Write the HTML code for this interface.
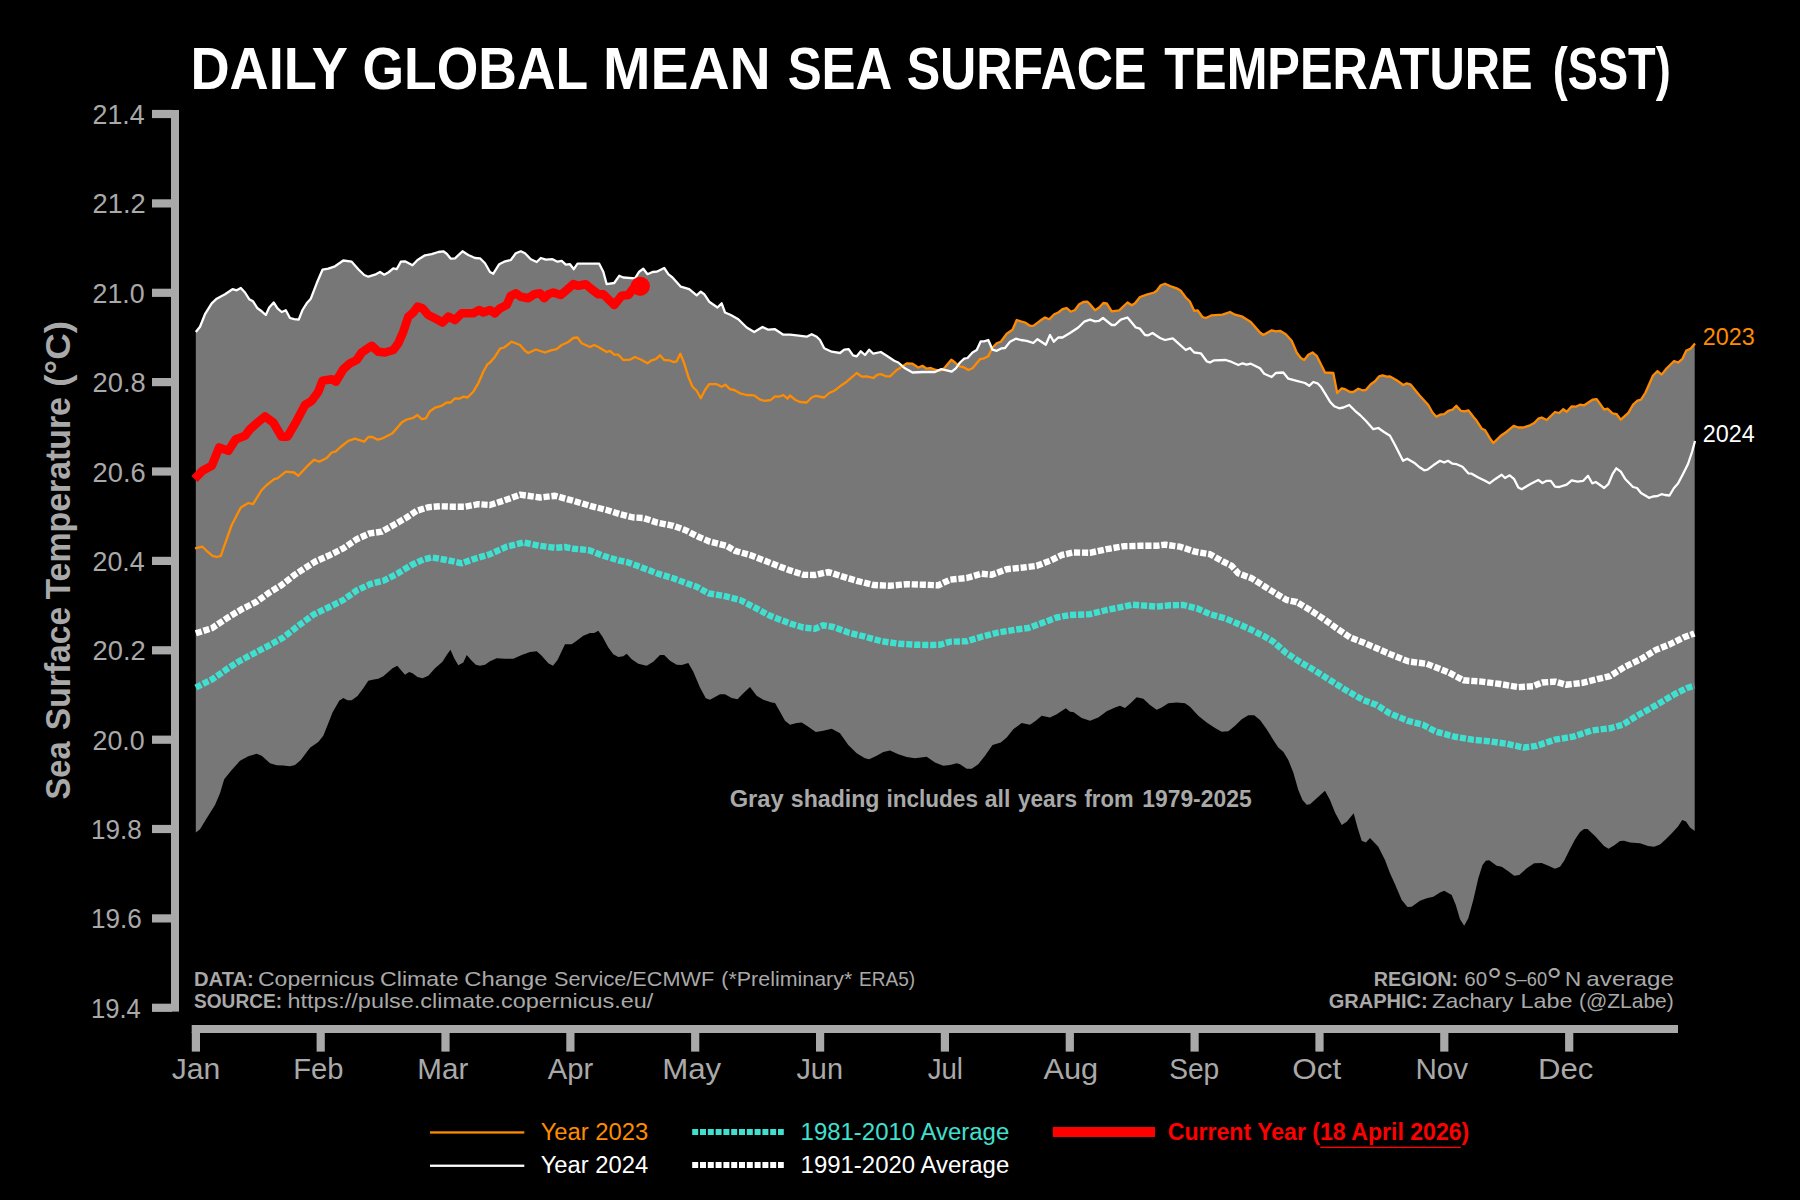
<!DOCTYPE html>
<html lang="en"><head><meta charset="utf-8"><title>Daily Global Mean Sea Surface Temperature (SST)</title>
<style>html,body{margin:0;padding:0;background:#000;}body{width:1800px;height:1200px;overflow:hidden;}svg{display:block;}text{font-family:'Liberation Sans', sans-serif;}</style>
</head><body>
<svg width="1800" height="1200" viewBox="0 0 1800 1200">
<rect x="0" y="0" width="1800" height="1200" fill="#000"/>
<text y="88.8" font-size="60" font-weight="bold" fill="#fff"><tspan x="190.41" textLength="156.64" lengthAdjust="spacingAndGlyphs">DAILY</tspan> <tspan x="362.53" textLength="224.64" lengthAdjust="spacingAndGlyphs">GLOBAL</tspan> <tspan x="602.9" textLength="167.89" lengthAdjust="spacingAndGlyphs">MEAN</tspan> <tspan x="787.63" textLength="102.81" lengthAdjust="spacingAndGlyphs">SEA</tspan> <tspan x="906.63" textLength="239.8" lengthAdjust="spacingAndGlyphs">SURFACE</tspan> <tspan x="1164.19" textLength="368.44" lengthAdjust="spacingAndGlyphs">TEMPERATURE</tspan> <tspan x="1552.74" textLength="117.96" lengthAdjust="spacingAndGlyphs">(SST)</tspan></text>
<polygon points="195.8,332.0 196.8,330.7 197.8,329.5 198.8,328.2 199.8,327.0 200.8,324.7 201.8,322.2 202.8,319.7 203.8,317.2 204.8,314.7 205.8,312.9 206.8,311.3 207.8,309.6 208.8,308.0 209.8,306.4 210.8,304.8 211.8,303.2 212.8,302.3 213.8,301.4 214.8,300.4 215.8,299.5 216.8,298.6 217.8,298.1 218.8,297.6 219.8,297.0 220.8,296.5 221.8,295.9 222.8,295.4 223.8,294.9 224.8,294.3 225.8,293.7 226.8,293.0 227.8,292.3 228.8,291.7 229.8,291.0 230.8,290.3 231.8,289.7 232.8,289.3 233.8,289.5 234.8,289.8 235.8,290.1 236.8,290.2 237.8,289.7 238.8,289.1 239.8,288.6 240.8,288.0 241.8,289.1 242.8,290.1 243.8,291.2 244.8,292.3 245.8,293.8 246.8,295.4 247.8,297.0 248.8,298.6 249.8,299.5 250.8,300.1 251.8,300.6 252.8,301.2 253.8,302.5 254.8,304.1 255.8,305.7 256.8,307.2 257.8,308.5 258.8,309.2 259.8,309.9 260.8,310.7 261.8,311.4 262.8,312.3 263.8,313.2 264.8,314.1 265.8,315.0 266.8,312.8 267.8,310.6 268.8,308.4 269.8,306.8 270.8,305.7 271.8,304.6 272.8,303.5 273.8,302.7 274.8,304.2 275.8,305.7 276.8,307.2 277.8,308.6 278.8,309.4 279.8,310.3 280.8,311.2 281.8,312.0 282.8,311.5 283.8,311.1 284.8,310.7 285.8,310.3 286.8,312.1 287.8,314.0 288.8,315.8 289.8,317.6 290.8,318.2 291.8,318.5 292.8,318.8 293.8,319.1 294.8,319.3 295.8,319.4 296.8,319.5 297.8,319.6 298.8,319.4 299.8,316.9 300.8,314.3 301.8,311.8 302.8,309.5 303.8,307.9 304.8,306.3 305.8,304.7 306.8,303.2 307.8,302.1 308.8,300.9 309.8,299.8 310.8,298.7 311.8,296.1 312.8,293.5 313.8,290.9 314.8,288.3 315.8,285.6 316.8,283.1 317.8,280.7 318.8,278.4 319.8,276.0 320.8,273.7 321.8,271.3 322.8,269.6 323.8,269.5 324.8,269.3 325.8,269.1 326.8,269.0 327.8,268.8 328.8,268.5 329.8,268.2 330.8,267.8 331.8,267.4 332.8,267.1 333.8,266.7 334.8,266.4 335.8,265.7 336.8,265.0 337.8,264.3 338.8,263.6 339.8,262.9 340.8,262.2 341.8,261.5 342.8,260.8 343.8,260.6 344.8,260.7 345.8,260.9 346.8,261.0 347.8,261.1 348.8,261.3 349.8,261.4 350.8,261.6 351.8,261.8 352.8,262.9 353.8,264.1 354.8,265.2 355.8,266.4 356.8,267.5 357.8,268.6 358.8,269.7 359.8,270.7 360.8,271.7 361.8,272.6 362.8,273.6 363.8,274.6 364.8,275.2 365.8,275.7 366.8,276.1 367.8,276.5 368.8,276.6 369.8,276.3 370.8,276.0 371.8,275.7 372.8,275.4 373.8,275.1 374.8,274.8 375.8,274.3 376.8,273.7 377.8,273.2 378.8,272.6 379.8,272.1 380.8,272.5 381.8,273.2 382.8,273.8 383.8,274.4 384.8,274.4 385.8,273.8 386.8,273.3 387.8,272.8 388.8,272.1 389.8,271.2 390.8,270.4 391.8,269.6 392.8,268.7 393.8,268.4 394.8,268.7 395.8,269.0 396.8,269.0 397.8,267.2 398.8,265.4 399.8,263.5 400.8,261.7 401.8,261.6 402.8,261.5 403.8,261.4 404.8,261.3 405.8,261.7 406.8,262.3 407.8,262.8 408.8,263.3 409.8,263.9 410.8,264.4 411.8,264.9 412.8,265.0 413.8,263.9 414.8,262.9 415.8,261.8 416.8,260.7 417.8,259.8 418.8,259.2 419.8,258.6 420.8,257.9 421.8,257.3 422.8,256.7 423.8,256.1 424.8,255.4 425.8,255.2 426.8,255.0 427.8,254.8 428.8,254.7 429.8,254.5 430.8,254.3 431.8,254.2 432.8,253.8 433.8,253.5 434.8,253.2 435.8,252.8 436.8,252.5 437.8,252.2 438.8,251.9 439.8,251.8 440.8,251.7 441.8,251.5 442.8,251.4 443.8,251.7 444.8,252.4 445.8,253.1 446.8,253.8 447.8,255.0 448.8,256.3 449.8,257.5 450.8,258.7 451.8,258.6 452.8,258.5 453.8,258.4 454.8,258.3 455.8,257.6 456.8,256.6 457.8,255.7 458.8,254.8 459.8,253.8 460.8,252.9 461.8,252.0 462.8,251.5 463.8,252.1 464.8,252.8 465.8,253.4 466.8,254.0 467.8,254.7 468.8,255.2 469.8,255.7 470.8,256.1 471.8,256.6 472.8,257.0 473.8,257.5 474.8,257.9 475.8,258.0 476.8,258.1 477.8,258.2 478.8,258.2 479.8,258.3 480.8,259.1 481.8,260.1 482.8,261.1 483.8,262.1 484.8,263.1 485.8,264.7 486.8,266.4 487.8,268.2 488.8,269.9 489.8,271.7 490.8,272.4 491.8,272.9 492.8,273.4 493.8,272.9 494.8,271.3 495.8,269.7 496.8,268.1 497.8,266.5 498.8,264.8 499.8,263.9 500.8,263.4 501.8,262.9 502.8,262.4 503.8,261.9 504.8,261.5 505.8,261.3 506.8,261.0 507.8,260.8 508.8,260.5 509.8,260.3 510.8,260.0 511.8,258.7 512.8,257.3 513.8,256.0 514.8,254.6 515.8,253.3 516.8,252.9 517.8,252.5 518.8,252.1 519.8,251.7 520.8,251.3 521.8,251.8 522.8,252.3 523.8,252.7 524.8,253.2 525.8,254.1 526.8,255.1 527.8,256.1 528.8,257.2 529.8,258.2 530.8,259.2 531.8,259.7 532.8,260.1 533.8,260.6 534.8,261.1 535.8,261.6 536.8,261.9 537.8,260.9 538.8,260.0 539.8,259.0 540.8,258.0 541.8,258.3 542.8,258.7 543.8,259.0 544.8,259.4 545.8,259.7 546.8,259.6 547.8,259.6 548.8,259.5 549.8,259.4 550.8,259.3 551.8,259.3 552.8,259.3 553.8,259.8 554.8,260.3 555.8,260.8 556.8,261.3 557.8,261.6 558.8,261.4 559.8,261.2 560.8,261.0 561.8,260.9 562.8,261.8 563.8,262.8 564.8,263.7 565.8,264.7 566.8,264.6 567.8,264.5 568.8,264.3 569.8,264.2 570.8,265.3 571.8,266.6 572.8,267.9 573.8,269.2 574.8,267.7 575.8,266.2 576.8,264.7 577.8,263.7 578.8,263.7 579.8,263.7 580.8,263.7 581.8,263.7 582.8,263.7 583.8,263.7 584.8,263.7 585.8,263.7 586.8,263.7 587.8,263.7 588.8,263.7 589.8,263.7 590.8,263.7 591.8,263.7 592.8,263.7 593.8,263.7 594.8,263.7 595.8,263.7 596.8,263.7 597.8,263.7 598.8,263.7 599.8,264.9 600.8,266.8 601.8,268.8 602.8,270.7 603.8,273.5 604.8,277.2 605.8,280.9 606.8,284.2 607.8,284.0 608.8,283.9 609.8,283.7 610.8,283.5 611.8,283.4 612.8,283.2 613.8,283.1 614.8,282.1 615.8,280.7 616.8,279.3 617.8,277.8 618.8,276.4 619.8,276.0 620.8,276.5 621.8,276.9 622.8,277.3 623.8,277.5 624.8,277.6 625.8,277.7 626.8,277.7 627.8,277.8 628.8,277.9 629.8,277.9 630.8,278.0 631.8,278.1 632.8,278.1 633.8,278.2 634.8,278.3 635.8,277.0 636.8,275.5 637.8,273.9 638.8,272.3 639.8,271.3 640.8,270.6 641.8,269.9 642.8,269.2 643.8,269.4 644.8,270.7 645.8,272.0 646.8,273.3 647.8,274.1 648.8,273.6 649.8,273.2 650.8,272.7 651.8,272.3 652.8,272.0 653.8,271.9 654.8,271.8 655.8,271.8 656.8,271.7 657.8,271.2 658.8,270.7 659.8,270.2 660.8,269.7 661.8,269.2 662.8,268.7 663.8,268.2 664.8,268.9 665.8,270.4 666.8,271.9 667.8,273.4 668.8,274.6 669.8,275.4 670.8,276.2 671.8,276.9 672.8,277.8 673.8,278.9 674.8,280.0 675.8,281.2 676.8,282.3 677.8,283.4 678.8,284.5 679.8,285.6 680.8,286.7 681.8,287.0 682.8,287.3 683.8,287.6 684.8,287.9 685.8,288.2 686.8,288.5 687.8,288.8 688.8,289.1 689.8,289.7 690.8,290.5 691.8,291.3 692.8,292.1 693.8,292.9 694.8,293.8 695.8,294.6 696.8,295.2 697.8,294.3 698.8,293.5 699.8,292.6 700.8,291.7 701.8,292.4 702.8,293.2 703.8,293.9 704.8,295.1 705.8,296.6 706.8,298.1 707.8,299.6 708.8,301.1 709.8,302.1 710.8,302.8 711.8,303.5 712.8,304.2 713.8,304.9 714.8,305.6 715.8,306.3 716.8,307.0 717.8,307.2 718.8,306.2 719.8,305.2 720.8,304.2 721.8,303.6 722.8,306.4 723.8,309.2 724.8,311.9 725.8,312.8 726.8,313.3 727.8,313.7 728.8,314.1 729.8,314.6 730.8,315.0 731.8,315.6 732.8,316.1 733.8,316.7 734.8,317.2 735.8,317.8 736.8,318.4 737.8,318.9 738.8,319.7 739.8,320.7 740.8,321.7 741.8,322.7 742.8,323.6 743.8,324.6 744.8,325.6 745.8,326.6 746.8,327.6 747.8,328.2 748.8,328.8 749.8,329.4 750.8,330.0 751.8,330.6 752.8,331.2 753.8,331.8 754.8,331.6 755.8,331.0 756.8,330.4 757.8,329.8 758.8,329.2 759.8,328.6 760.8,328.0 761.8,327.4 762.8,327.1 763.8,327.6 764.8,328.1 765.8,328.5 766.8,329.0 767.8,329.5 768.8,329.7 769.8,329.6 770.8,329.5 771.8,329.4 772.8,329.4 773.8,329.3 774.8,329.2 775.8,329.7 776.8,330.4 777.8,331.1 778.8,331.7 779.8,332.4 780.8,333.0 781.8,333.7 782.8,334.4 783.8,334.7 784.8,334.7 785.8,334.7 786.8,334.7 787.8,334.7 788.8,334.7 789.8,334.7 790.8,334.8 791.8,334.9 792.8,335.0 793.8,335.0 794.8,335.1 795.8,335.2 796.8,335.3 797.8,335.5 798.8,335.6 799.8,335.7 800.8,335.9 801.8,336.0 802.8,336.2 803.8,336.3 804.8,336.4 805.8,336.6 806.8,336.7 807.8,336.2 808.8,335.7 809.8,335.2 810.8,334.7 811.8,334.2 812.8,334.7 813.8,335.2 814.8,335.7 815.8,336.2 816.8,336.8 817.8,337.8 818.8,338.8 819.8,339.8 820.8,341.6 821.8,343.6 822.8,345.5 823.8,347.5 824.8,348.6 825.8,349.0 826.8,349.5 827.8,349.9 828.8,350.4 829.8,350.8 830.8,351.3 831.8,351.7 832.8,351.9 833.8,352.0 834.8,352.2 835.8,352.3 836.8,352.5 837.8,352.7 838.8,352.8 839.8,353.0 840.8,352.4 841.8,351.6 842.8,350.8 843.8,350.0 844.8,349.6 845.8,349.5 846.8,349.4 847.8,349.3 848.8,349.3 849.8,350.8 850.8,352.2 851.8,353.6 852.8,355.0 853.8,355.5 854.8,355.8 855.8,356.1 856.8,356.2 857.8,355.0 858.8,353.7 859.8,352.5 860.8,351.3 861.8,352.2 862.8,353.1 863.8,353.9 864.8,354.8 865.8,354.0 866.8,352.7 867.8,351.5 868.8,350.2 869.8,350.3 870.8,351.3 871.8,352.2 872.8,353.2 873.8,353.6 874.8,353.4 875.8,353.1 876.8,352.9 877.8,352.7 878.8,352.5 879.8,352.2 880.8,352.0 881.8,352.6 882.8,353.3 883.8,353.9 884.8,354.6 885.8,355.2 886.8,355.9 887.8,356.5 888.8,357.2 889.8,357.9 890.8,358.5 891.8,359.2 892.8,359.9 893.8,360.5 894.8,361.0 895.8,361.5 896.8,361.9 897.8,362.3 898.8,362.9 899.8,363.8 900.8,364.7 901.8,365.5 902.8,366.2 903.8,365.4 904.8,364.7 905.8,364.0 906.8,363.3 907.8,363.4 908.8,363.4 909.8,363.5 910.8,363.6 911.8,363.7 912.8,363.9 913.8,364.6 914.8,365.2 915.8,365.9 916.8,366.5 917.8,367.2 918.8,367.3 919.8,366.9 920.8,366.5 921.8,366.1 922.8,366.0 923.8,366.7 924.8,367.4 925.8,368.1 926.8,368.7 927.8,368.5 928.8,368.3 929.8,368.2 930.8,368.0 931.8,368.4 932.8,368.8 933.8,369.2 934.8,369.6 935.8,369.9 936.8,370.1 937.8,370.3 938.8,370.2 939.8,369.7 940.8,369.2 941.8,369.4 942.8,369.1 943.8,368.5 944.8,367.6 945.8,366.4 946.8,365.2 947.8,363.9 948.8,362.7 949.8,361.5 950.8,360.3 951.8,360.1 952.8,360.8 953.8,361.6 954.8,362.3 955.8,363.2 956.8,364.1 957.8,365.0 958.8,364.2 959.8,362.8 960.8,361.8 961.8,360.9 962.8,360.0 963.8,359.1 964.8,358.6 965.8,358.4 966.8,358.1 967.8,357.7 968.8,356.6 969.8,355.5 970.8,354.4 971.8,353.3 972.8,352.3 973.8,351.7 974.8,351.1 975.8,350.5 976.8,349.8 977.8,347.7 978.8,345.5 979.8,343.4 980.8,341.3 981.8,341.3 982.8,341.3 983.8,341.3 984.8,341.1 985.8,340.8 986.8,340.5 987.8,340.2 988.8,341.2 989.8,343.5 990.8,345.8 991.8,348.1 992.8,347.2 993.8,346.2 994.8,345.2 995.8,344.2 996.8,343.3 997.8,342.9 998.8,342.5 999.8,342.1 1000.8,341.7 1001.8,340.3 1002.8,339.0 1003.8,337.6 1004.8,336.3 1005.8,334.9 1006.8,333.6 1007.8,332.9 1008.8,332.3 1009.8,331.6 1010.8,330.9 1011.8,330.2 1012.8,329.0 1013.8,326.7 1014.8,324.4 1015.8,322.1 1016.8,320.0 1017.8,320.3 1018.8,320.7 1019.8,321.0 1020.8,321.3 1021.8,321.6 1022.8,321.9 1023.8,322.2 1024.8,322.4 1025.8,323.0 1026.8,323.7 1027.8,324.3 1028.8,325.0 1029.8,325.7 1030.8,325.8 1031.8,325.8 1032.8,325.8 1033.8,325.4 1034.8,324.7 1035.8,323.9 1036.8,323.2 1037.8,322.4 1038.8,321.7 1039.8,320.9 1040.8,320.3 1041.8,319.6 1042.8,319.0 1043.8,318.3 1044.8,317.6 1045.8,317.8 1046.8,318.2 1047.8,318.6 1048.8,319.0 1049.8,318.6 1050.8,317.6 1051.8,316.6 1052.8,315.6 1053.8,314.6 1054.8,314.0 1055.8,313.5 1056.8,313.1 1057.8,312.7 1058.8,312.1 1059.8,311.3 1060.8,310.5 1061.8,309.8 1062.8,309.1 1063.8,308.8 1064.8,308.5 1065.8,308.3 1066.8,308.1 1067.8,309.0 1068.8,309.9 1069.8,310.8 1070.8,311.7 1071.8,311.3 1072.8,310.9 1073.8,310.5 1074.8,310.1 1075.8,308.9 1076.8,307.5 1077.8,306.1 1078.8,304.8 1079.8,303.9 1080.8,303.3 1081.8,302.8 1082.8,302.3 1083.8,302.0 1084.8,301.9 1085.8,301.8 1086.8,301.8 1087.8,302.0 1088.8,303.0 1089.8,304.0 1090.8,305.2 1091.8,306.4 1092.8,307.6 1093.8,308.8 1094.8,310.1 1095.8,309.8 1096.8,309.1 1097.8,308.4 1098.8,307.8 1099.8,306.8 1100.8,305.7 1101.8,304.6 1102.8,303.5 1103.8,303.0 1104.8,303.1 1105.8,303.2 1106.8,303.5 1107.8,305.1 1108.8,306.7 1109.8,308.3 1110.8,309.9 1111.8,311.3 1112.8,311.2 1113.8,311.0 1114.8,310.9 1115.8,310.8 1116.8,310.6 1117.8,310.5 1118.8,310.4 1119.8,309.7 1120.8,308.8 1121.8,307.9 1122.8,306.9 1123.8,306.0 1124.8,305.0 1125.8,304.1 1126.8,303.2 1127.8,302.7 1128.8,303.4 1129.8,304.0 1130.8,304.7 1131.8,305.2 1132.8,304.6 1133.8,304.0 1134.8,303.4 1135.8,302.3 1136.8,301.0 1137.8,299.8 1138.8,298.5 1139.8,297.3 1140.8,296.7 1141.8,296.4 1142.8,296.0 1143.8,295.7 1144.8,295.4 1145.8,295.0 1146.8,294.7 1147.8,294.4 1148.8,294.1 1149.8,293.8 1150.8,293.5 1151.8,293.2 1152.8,292.9 1153.8,292.6 1154.8,292.1 1155.8,291.4 1156.8,290.7 1157.8,289.3 1158.8,288.0 1159.8,286.6 1160.8,285.3 1161.8,284.9 1162.8,284.5 1163.8,284.2 1164.8,283.8 1165.8,284.1 1166.8,284.5 1167.8,285.0 1168.8,285.4 1169.8,285.8 1170.8,286.3 1171.8,286.7 1172.8,287.1 1173.8,287.4 1174.8,287.7 1175.8,288.0 1176.8,288.4 1177.8,289.0 1178.8,289.6 1179.8,290.2 1180.8,290.8 1181.8,292.1 1182.8,293.5 1183.8,294.8 1184.8,296.2 1185.8,297.5 1186.8,298.5 1187.8,299.4 1188.8,300.4 1189.8,301.5 1190.8,303.6 1191.8,305.7 1192.8,307.8 1193.8,310.0 1194.8,310.7 1195.8,310.6 1196.8,310.4 1197.8,310.7 1198.8,312.0 1199.8,313.4 1200.8,314.7 1201.8,316.1 1202.8,317.1 1203.8,317.4 1204.8,317.7 1205.8,318.0 1206.8,317.5 1207.8,317.1 1208.8,316.6 1209.8,316.2 1210.8,315.7 1211.8,315.3 1212.8,315.2 1213.8,315.2 1214.8,315.1 1215.8,315.1 1216.8,315.0 1217.8,315.0 1218.8,314.9 1219.8,314.9 1220.8,314.8 1221.8,314.7 1222.8,314.6 1223.8,314.2 1224.8,313.9 1225.8,313.5 1226.8,313.2 1227.8,312.8 1228.8,312.4 1229.8,312.1 1230.8,312.4 1231.8,313.0 1232.8,313.5 1233.8,314.1 1234.8,314.6 1235.8,314.9 1236.8,315.1 1237.8,315.4 1238.8,315.6 1239.8,315.8 1240.8,316.1 1241.8,316.4 1242.8,317.0 1243.8,317.6 1244.8,318.2 1245.8,318.9 1246.8,319.5 1247.8,320.1 1248.8,320.7 1249.8,321.4 1250.8,322.0 1251.8,323.1 1252.8,324.3 1253.8,325.4 1254.8,326.6 1255.8,327.7 1256.8,328.8 1257.8,330.0 1258.8,331.1 1259.8,332.3 1260.8,333.1 1261.8,333.9 1262.8,334.6 1263.8,334.7 1264.8,334.2 1265.8,333.6 1266.8,333.0 1267.8,332.5 1268.8,331.9 1269.8,331.4 1270.8,330.8 1271.8,330.3 1272.8,330.6 1273.8,330.8 1274.8,331.1 1275.8,331.3 1276.8,331.2 1277.8,331.1 1278.8,330.9 1279.8,330.8 1280.8,331.3 1281.8,331.9 1282.8,332.4 1283.8,333.0 1284.8,333.6 1285.8,334.2 1286.8,335.3 1287.8,336.4 1288.8,337.6 1289.8,338.7 1290.8,339.8 1291.8,341.0 1292.8,343.4 1293.8,345.7 1294.8,348.1 1295.8,350.4 1296.8,352.6 1297.8,354.0 1298.8,355.3 1299.8,356.7 1300.8,358.0 1301.8,358.6 1302.8,359.2 1303.8,359.8 1304.8,359.2 1305.8,357.9 1306.8,356.6 1307.8,355.3 1308.8,354.4 1309.8,353.9 1310.8,353.4 1311.8,352.9 1312.8,352.7 1313.8,353.5 1314.8,354.3 1315.8,355.1 1316.8,356.0 1317.8,358.0 1318.8,360.0 1319.8,362.0 1320.8,364.0 1321.8,366.1 1322.8,368.1 1323.8,370.1 1324.8,372.1 1325.8,372.5 1326.8,372.6 1327.8,372.7 1328.8,372.7 1329.8,372.8 1330.8,372.8 1331.8,372.9 1332.8,373.0 1333.8,375.6 1334.8,380.7 1335.8,385.8 1336.8,390.9 1337.8,392.4 1338.8,391.3 1339.8,390.3 1340.8,389.2 1341.8,388.3 1342.8,388.6 1343.8,388.9 1344.8,389.1 1345.8,389.6 1346.8,390.2 1347.8,390.8 1348.8,391.3 1349.8,391.9 1350.8,392.0 1351.8,392.0 1352.8,392.0 1353.8,391.7 1354.8,391.0 1355.8,390.4 1356.8,389.7 1357.8,389.0 1358.8,388.9 1359.8,389.3 1360.8,389.7 1361.8,390.0 1362.8,390.3 1363.8,390.2 1364.8,390.1 1365.8,390.0 1366.8,388.8 1367.8,387.7 1368.8,386.5 1369.8,385.4 1370.8,384.2 1371.8,383.5 1372.8,382.8 1373.8,382.1 1374.8,381.4 1375.8,380.3 1376.8,379.2 1377.8,378.0 1378.8,376.8 1379.8,376.1 1380.8,375.8 1381.8,375.5 1382.8,375.4 1383.8,375.7 1384.8,376.1 1385.8,376.4 1386.8,376.7 1387.8,376.6 1388.8,376.6 1389.8,376.5 1390.8,377.0 1391.8,377.5 1392.8,378.1 1393.8,378.7 1394.8,379.2 1395.8,379.8 1396.8,380.4 1397.8,381.1 1398.8,381.8 1399.8,382.5 1400.8,383.2 1401.8,383.9 1402.8,384.6 1403.8,384.8 1404.8,384.2 1405.8,383.8 1406.8,383.3 1407.8,383.7 1408.8,384.0 1409.8,384.4 1410.8,384.7 1411.8,385.9 1412.8,387.2 1413.8,388.4 1414.8,389.6 1415.8,390.8 1416.8,392.1 1417.8,393.3 1418.8,394.5 1419.8,395.7 1420.8,396.8 1421.8,397.9 1422.8,399.0 1423.8,400.1 1424.8,401.2 1425.8,402.3 1426.8,403.4 1427.8,404.5 1428.8,405.9 1429.8,407.7 1430.8,409.5 1431.8,411.2 1432.8,412.8 1433.8,413.9 1434.8,415.0 1435.8,416.1 1436.8,416.4 1437.8,415.9 1438.8,415.3 1439.8,414.8 1440.8,414.6 1441.8,414.5 1442.8,414.4 1443.8,414.2 1444.8,413.7 1445.8,412.9 1446.8,412.0 1447.8,411.2 1448.8,410.7 1449.8,410.4 1450.8,410.1 1451.8,409.9 1452.8,409.4 1453.8,408.4 1454.8,407.3 1455.8,406.3 1456.8,406.4 1457.8,407.5 1458.8,408.6 1459.8,409.7 1460.8,410.8 1461.8,410.9 1462.8,411.0 1463.8,411.2 1464.8,411.3 1465.8,411.1 1466.8,410.8 1467.8,410.5 1468.8,410.9 1469.8,412.2 1470.8,413.5 1471.8,414.8 1472.8,416.1 1473.8,417.3 1474.8,418.5 1475.8,419.7 1476.8,421.0 1477.8,422.5 1478.8,424.1 1479.8,425.7 1480.8,427.3 1481.8,428.7 1482.8,429.1 1483.8,429.5 1484.8,429.9 1485.8,431.3 1486.8,433.0 1487.8,434.6 1488.8,436.3 1489.8,438.0 1490.8,439.4 1491.8,440.9 1492.8,442.3 1493.8,442.5 1494.8,441.6 1495.8,440.6 1496.8,439.6 1497.8,438.7 1498.8,437.7 1499.8,436.8 1500.8,435.8 1501.8,435.1 1502.8,434.4 1503.8,433.7 1504.8,433.0 1505.8,432.3 1506.8,431.6 1507.8,430.8 1508.8,429.9 1509.8,429.1 1510.8,428.2 1511.8,427.4 1512.8,426.6 1513.8,425.8 1514.8,426.2 1515.8,426.6 1516.8,426.9 1517.8,427.3 1518.8,427.5 1519.8,427.5 1520.8,427.5 1521.8,427.5 1522.8,427.5 1523.8,427.3 1524.8,427.0 1525.8,426.7 1526.8,426.4 1527.8,426.0 1528.8,425.7 1529.8,425.4 1530.8,424.9 1531.8,424.3 1532.8,423.8 1533.8,423.2 1534.8,422.4 1535.8,421.3 1536.8,420.3 1537.8,419.2 1538.8,418.5 1539.8,418.2 1540.8,417.8 1541.8,417.5 1542.8,418.0 1543.8,418.5 1544.8,419.0 1545.8,419.5 1546.8,419.9 1547.8,418.9 1548.8,418.0 1549.8,417.0 1550.8,416.0 1551.8,415.1 1552.8,414.1 1553.8,413.2 1554.8,412.2 1555.8,412.2 1556.8,412.4 1557.8,412.7 1558.8,412.9 1559.8,412.4 1560.8,411.5 1561.8,410.6 1562.8,409.7 1563.8,409.6 1564.8,410.3 1565.8,411.0 1566.8,411.6 1567.8,410.5 1568.8,409.4 1569.8,408.4 1570.8,407.3 1571.8,406.3 1572.8,406.4 1573.8,406.5 1574.8,406.6 1575.8,406.7 1576.8,406.2 1577.8,405.7 1578.8,405.3 1579.8,404.8 1580.8,404.8 1581.8,405.0 1582.8,405.1 1583.8,405.2 1584.8,404.9 1585.8,404.2 1586.8,403.5 1587.8,402.9 1588.8,402.2 1589.8,401.5 1590.8,400.8 1591.8,400.2 1592.8,399.7 1593.8,399.5 1594.8,399.4 1595.8,399.3 1596.8,399.3 1597.8,400.7 1598.8,402.1 1599.8,403.5 1600.8,404.9 1601.8,406.3 1602.8,407.7 1603.8,409.1 1604.8,409.5 1605.8,409.2 1606.8,408.9 1607.8,409.0 1608.8,409.9 1609.8,410.8 1610.8,411.7 1611.8,412.7 1612.8,413.4 1613.8,413.6 1614.8,413.8 1615.8,414.0 1616.8,414.3 1617.8,415.7 1618.8,417.0 1619.8,418.4 1620.8,419.7 1621.8,418.8 1622.8,417.9 1623.8,416.9 1624.8,416.0 1625.8,415.1 1626.8,414.2 1627.8,413.3 1628.8,411.9 1629.8,410.2 1630.8,408.6 1631.8,406.9 1632.8,405.2 1633.8,403.9 1634.8,403.0 1635.8,402.1 1636.8,401.2 1637.8,400.5 1638.8,400.3 1639.8,400.0 1640.8,399.8 1641.8,398.4 1642.8,396.8 1643.8,395.2 1644.8,393.6 1645.8,391.8 1646.8,389.6 1647.8,387.3 1648.8,385.0 1649.8,382.8 1650.8,380.5 1651.8,378.2 1652.8,376.0 1653.8,374.7 1654.8,373.8 1655.8,372.8 1656.8,371.9 1657.8,371.4 1658.8,372.3 1659.8,373.1 1660.8,373.9 1661.8,374.4 1662.8,373.1 1663.8,371.9 1664.8,370.6 1665.8,369.4 1666.8,368.2 1667.8,367.2 1668.8,366.2 1669.8,365.2 1670.8,364.3 1671.8,363.3 1672.8,362.3 1673.8,361.3 1674.8,361.3 1675.8,361.6 1676.8,362.0 1677.8,362.4 1678.8,362.0 1679.8,361.2 1680.8,360.4 1681.8,359.5 1682.8,357.9 1683.8,355.8 1684.8,353.7 1685.8,351.6 1686.8,350.3 1687.8,349.9 1688.8,349.5 1689.8,349.1 1690.8,348.3 1691.8,347.2 1692.8,346.0 1694.7,343.8 1694.7,831.0 1690.0,827.5 1686.0,821.5 1682.2,820.0 1678.0,826.5 1672.0,833.0 1665.0,840.0 1660.0,844.5 1654.0,846.8 1648.0,846.0 1640.0,843.2 1630.0,842.5 1624.0,840.8 1620.0,841.0 1614.0,845.5 1608.5,848.8 1604.0,846.0 1595.0,836.0 1587.5,829.0 1584.0,829.0 1580.0,832.0 1575.0,839.5 1570.0,849.0 1564.0,861.0 1560.0,866.7 1555.0,868.7 1548.3,865.8 1541.7,863.0 1534.2,863.3 1526.7,868.3 1519.2,875.0 1514.2,875.8 1508.3,871.3 1501.7,866.7 1496.7,865.8 1489.2,860.3 1485.8,860.8 1482.5,865.0 1478.3,878.3 1473.3,900.0 1468.3,918.3 1464.2,925.8 1460.0,919.2 1455.8,905.0 1451.7,895.0 1444.2,890.8 1440.0,892.5 1433.3,896.7 1426.7,898.3 1420.0,900.8 1411.7,906.7 1407.5,907.0 1401.7,900.0 1395.0,884.2 1390.0,873.3 1385.0,860.0 1378.3,846.7 1370.0,838.0 1365.8,842.5 1361.7,840.8 1357.5,827.5 1353.7,813.3 1346.7,821.7 1341.7,825.0 1335.0,812.5 1330.0,800.0 1325.0,790.8 1316.7,798.3 1310.0,804.2 1306.7,804.7 1302.5,800.0 1298.3,790.0 1293.3,772.5 1288.3,760.0 1283.3,751.7 1278.3,747.5 1273.3,740.0 1266.7,729.2 1260.0,720.0 1254.2,715.3 1248.3,715.3 1241.7,719.2 1235.0,725.8 1228.3,731.3 1221.7,731.7 1215.0,728.0 1206.7,722.5 1198.3,715.8 1190.0,706.7 1185.0,703.3 1176.7,702.5 1168.3,703.3 1161.7,707.5 1156.7,709.7 1150.0,705.0 1143.3,698.7 1136.7,697.2 1130.8,703.0 1125.0,708.0 1120.0,705.8 1115.0,707.5 1106.7,711.3 1098.3,717.5 1090.0,720.8 1081.7,718.0 1073.3,712.0 1070.0,711.7 1065.8,708.3 1056.7,714.2 1050.0,717.5 1041.7,715.8 1035.8,720.8 1030.0,724.7 1021.7,723.0 1013.3,729.2 1006.7,737.5 1000.8,742.5 992.5,745.0 985.0,755.8 978.3,764.2 971.7,768.7 966.7,768.7 960.0,764.2 956.7,763.3 950.0,765.0 943.3,765.8 935.0,762.5 926.7,756.7 915.0,758.3 906.7,757.0 898.3,754.2 890.0,750.5 883.3,752.0 876.7,755.8 869.2,759.2 865.0,758.3 856.7,753.3 848.3,745.0 840.0,733.3 831.7,728.7 823.3,730.8 815.8,732.0 808.3,726.7 801.7,722.5 796.7,723.0 790.0,724.8 785.0,720.8 780.0,711.7 775.0,703.0 771.7,702.5 763.3,699.7 756.7,695.8 750.0,687.0 743.3,693.3 737.5,699.2 731.7,698.0 725.0,694.2 720.0,694.2 710.0,699.7 705.8,698.3 700.0,687.5 693.3,671.7 688.3,663.0 681.7,665.0 676.7,664.7 670.0,660.8 664.2,655.0 660.0,655.0 653.3,661.7 646.7,665.8 638.3,663.7 631.7,659.2 626.7,653.7 623.3,656.3 618.3,657.0 613.3,654.2 608.3,647.5 602.5,636.7 598.3,630.8 594.2,633.0 590.0,633.0 583.3,635.8 576.7,640.8 571.7,644.2 565.0,644.2 557.5,660.0 553.0,665.8 548.3,663.3 541.7,655.8 536.7,651.3 530.0,652.0 521.7,655.0 513.3,658.7 505.0,658.7 496.7,658.3 490.0,661.3 485.0,664.7 480.0,665.8 475.8,664.7 471.7,660.8 466.7,655.0 463.3,662.5 458.3,665.3 454.2,658.3 450.5,649.7 446.7,655.0 442.5,661.7 435.0,668.3 428.3,675.8 422.5,678.3 417.5,677.0 412.5,673.3 409.2,672.0 405.0,674.7 397.2,665.8 392.5,668.3 383.3,676.3 378.3,678.7 372.5,679.7 368.3,680.8 363.3,688.3 357.5,696.0 351.7,700.2 347.5,700.3 343.3,698.0 339.2,700.8 332.5,712.5 328.3,723.3 323.3,735.8 318.3,742.0 310.0,747.8 300.8,760.0 295.0,765.0 290.0,766.3 283.3,765.5 276.7,765.3 270.0,763.3 261.7,755.8 256.7,753.7 248.3,756.3 240.0,760.8 231.7,770.0 224.2,779.2 220.0,793.3 215.0,805.0 206.7,818.3 200.0,829.2 195.8,832.5" fill="#777777"/>
<polyline points="195.0,548.3 202.5,546.7 207.5,551.7 212.5,555.8 216.7,557.0 220.8,555.8 225.8,541.7 231.7,525.0 240.8,507.5 248.3,503.0 253.0,504.2 261.7,490.0 266.7,485.0 274.2,479.2 277.5,478.3 285.8,471.7 294.2,472.5 298.3,475.8 306.7,466.7 314.2,459.7 319.2,461.7 326.7,458.0 331.7,452.5 335.8,451.3 340.0,447.5 348.3,440.8 355.0,438.7 364.2,441.7 368.3,437.0 372.5,437.0 377.5,439.7 381.7,438.7 392.5,433.3 401.7,422.5 406.7,419.5 413.3,417.8 417.5,415.0 421.7,419.2 425.8,418.3 430.0,411.2 435.0,407.7 441.7,405.8 446.7,402.5 450.8,402.5 455.0,398.3 459.2,398.7 463.3,396.7 467.5,397.5 473.3,391.7 478.3,383.3 483.3,371.7 487.5,364.2 490.0,362.5 495.0,356.7 500.0,348.7 504.2,347.5 511.7,341.7 520.0,345.0 525.0,350.8 528.3,353.0 535.8,349.5 545.0,352.5 550.8,350.3 556.7,349.2 561.7,345.0 568.3,342.0 573.3,338.0 577.5,337.5 581.7,343.3 590.0,347.0 594.2,345.0 598.3,347.0 606.7,352.0 610.0,350.8 614.2,354.7 618.3,354.7 623.3,360.0 630.0,359.7 635.0,357.0 641.7,360.0 647.5,363.3 651.7,360.3 655.8,359.2 660.0,355.3 664.2,360.0 669.2,360.3 673.3,362.0 676.7,361.3 680.3,353.7 684.2,363.3 688.3,376.7 692.5,386.7 696.7,390.8 700.8,398.3 705.0,390.0 709.2,384.2 716.7,384.2 721.7,386.7 725.3,384.7 730.0,389.2 734.2,390.0 740.0,393.3 746.7,395.0 754.2,395.3 760.0,399.7 765.0,400.8 770.8,400.0 775.0,396.3 779.2,396.7 783.3,395.0 787.5,398.7 790.0,395.5 795.0,399.7 800.0,402.0 806.7,402.5 811.7,397.5 815.8,395.8 824.2,397.5 829.2,393.0 834.2,390.8 840.0,386.3 846.7,381.7 856.7,373.0 861.7,376.7 866.7,376.3 873.3,378.0 877.5,374.7 881.3,374.2 885.8,376.3 890.0,376.3 896.7,370.0 901.7,367.0 906.7,363.3 912.5,363.7 918.3,367.5 922.5,365.8 926.7,368.7 930.8,368.0 935.0,369.7 940.0,370.8 944.2,368.3 951.3,359.7 955.0,362.5 959.2,366.3 963.3,367.0 968.3,370.0 972.5,368.3 980.0,359.2 984.2,358.3 988.3,356.3 992.5,347.5 996.7,343.3 1000.8,341.7 1006.7,333.7 1012.5,329.7 1016.7,320.0 1020.8,321.3 1025.0,322.5 1030.0,325.8 1033.3,325.8 1040.0,320.8 1045.0,317.5 1049.2,319.2 1054.2,314.2 1058.3,312.5 1062.5,309.2 1066.7,308.0 1070.8,311.7 1075.0,310.0 1079.2,304.2 1083.3,302.0 1087.5,301.7 1090.0,304.2 1095.0,310.3 1099.2,307.5 1103.3,303.0 1106.7,303.3 1111.7,311.3 1119.2,310.3 1127.5,302.5 1131.7,305.3 1135.0,303.3 1140.0,297.0 1146.7,294.7 1154.2,292.5 1156.7,290.8 1160.8,285.3 1165.0,283.7 1171.7,286.7 1176.7,288.3 1180.8,290.8 1185.8,297.5 1189.7,301.3 1194.2,310.8 1197.5,310.3 1202.5,317.0 1205.8,318.0 1211.7,315.3 1222.5,314.7 1230.0,312.0 1235.0,314.7 1241.7,316.3 1250.8,322.0 1260.0,332.5 1263.3,335.0 1271.7,330.3 1275.8,331.3 1280.0,330.8 1285.8,334.2 1291.7,340.8 1296.7,352.5 1300.8,358.0 1304.2,360.0 1308.3,354.7 1312.5,352.5 1316.7,355.8 1325.0,372.5 1333.3,373.0 1337.2,393.0 1341.7,388.3 1345.0,389.2 1350.0,392.0 1353.3,392.0 1358.3,388.7 1362.5,390.3 1365.8,390.0 1370.8,384.2 1375.0,381.3 1379.2,376.3 1382.5,375.3 1386.7,376.7 1390.0,376.5 1396.7,380.3 1403.3,385.0 1406.7,383.3 1410.8,384.7 1419.2,395.0 1428.3,405.0 1432.5,412.5 1436.3,416.7 1440.0,414.7 1444.2,414.2 1448.3,410.8 1452.5,409.7 1456.3,405.8 1460.8,410.8 1465.0,411.3 1468.3,410.3 1473.3,416.7 1476.7,420.8 1481.7,428.7 1485.0,430.0 1490.0,438.3 1493.3,443.0 1500.8,435.8 1506.7,431.7 1513.7,425.8 1518.3,427.5 1523.3,427.5 1530.0,425.3 1534.2,423.0 1538.3,418.7 1541.7,417.5 1546.7,420.0 1555.0,412.0 1559.2,413.0 1563.3,409.2 1566.7,411.7 1571.7,406.3 1575.8,406.7 1580.0,404.7 1584.2,405.3 1592.5,399.7 1596.7,399.2 1604.2,409.7 1607.5,408.7 1612.5,413.3 1616.7,414.2 1620.8,419.7 1628.3,412.8 1633.3,404.3 1637.5,400.6 1641.0,399.7 1645.5,392.5 1653.0,375.5 1657.5,371.2 1661.6,374.6 1666.5,368.5 1674.1,361.0 1678.2,362.5 1682.2,359.2 1686.3,350.5 1690.3,348.9 1695.0,343.5" fill="none" stroke="#ff8c00" stroke-width="2.3" stroke-linejoin="round"/>
<polyline points="195.8,332.0 200.0,326.7 205.0,314.2 211.7,303.3 216.7,298.7 225.0,294.2 232.5,289.2 236.7,290.3 240.8,288.0 245.0,292.5 249.2,299.2 253.0,301.3 257.5,308.3 261.7,311.3 265.8,315.0 269.2,307.5 273.7,302.5 277.5,308.3 281.7,312.0 285.8,310.3 290.0,318.0 294.2,319.2 298.7,319.7 302.5,310.0 306.7,303.3 310.8,298.7 316.7,283.3 322.5,269.7 328.3,268.7 335.0,266.3 343.3,260.5 351.7,261.7 358.3,269.2 364.2,275.0 368.3,276.7 375.0,274.7 380.0,272.0 384.2,274.7 388.3,272.5 393.3,268.3 396.7,269.2 400.8,261.7 405.0,261.3 412.5,265.3 417.5,260.0 425.0,255.3 431.7,254.2 438.3,252.0 443.3,251.3 446.7,253.7 450.8,258.7 455.0,258.3 462.5,251.3 468.3,255.0 475.0,258.0 480.0,258.3 485.0,263.3 490.0,272.0 493.3,273.7 499.2,264.2 504.2,261.7 510.8,260.0 515.8,253.3 520.8,251.3 525.0,253.3 530.8,259.2 536.7,262.0 540.8,258.0 545.8,259.7 552.5,259.2 557.5,261.7 561.7,260.8 565.8,264.7 570.0,264.2 573.8,269.2 577.5,263.7 599.2,263.7 603.3,271.7 606.7,284.2 614.2,283.0 619.2,275.8 623.3,277.5 635.0,278.3 639.2,271.7 643.3,268.8 647.5,274.2 652.5,272.0 656.7,271.7 664.2,268.0 668.3,274.2 672.5,277.5 680.8,286.7 689.2,289.2 696.7,295.3 700.8,291.7 704.2,294.2 709.2,301.7 717.5,307.5 721.7,303.3 725.0,312.5 730.8,315.0 738.3,319.2 746.7,327.5 754.2,332.0 762.5,327.0 768.3,329.7 775.0,329.2 783.3,334.7 790.0,334.7 796.7,335.3 806.7,336.7 811.7,334.2 816.7,336.7 820.0,340.0 824.2,348.3 831.7,351.7 840.0,353.0 844.2,349.7 848.7,349.2 853.0,355.3 856.7,356.3 860.8,351.3 865.0,355.0 869.2,349.7 873.3,353.7 880.8,352.0 886.7,355.8 894.2,360.8 898.3,362.5 905.0,368.3 912.5,372.5 923.3,372.0 935.0,372.0 940.8,369.2 946.7,370.3 951.7,371.7 955.8,368.3 960.0,362.5 964.2,358.7 967.5,358.0 972.5,352.5 976.7,350.0 980.8,341.3 984.2,341.3 988.3,340.0 992.5,349.7 996.7,350.8 1001.7,348.3 1005.0,348.0 1010.0,341.7 1015.8,338.7 1020.8,340.0 1026.7,340.8 1033.3,343.0 1037.5,339.2 1041.7,342.0 1045.8,344.7 1050.0,335.0 1053.8,341.7 1058.3,337.5 1062.5,337.5 1070.0,333.0 1078.3,327.5 1084.2,321.7 1090.0,319.7 1095.0,321.3 1099.2,320.8 1103.0,318.0 1111.7,325.0 1115.0,325.0 1120.8,319.7 1127.5,317.5 1135.8,327.5 1140.0,328.7 1145.0,335.0 1148.3,335.3 1152.5,333.0 1160.0,338.0 1165.0,340.0 1172.8,338.3 1179.2,344.2 1185.8,350.0 1190.0,348.0 1194.2,352.5 1200.8,353.3 1206.7,361.3 1210.0,362.5 1214.2,360.3 1225.8,360.0 1230.0,361.3 1238.3,365.0 1242.5,363.3 1246.7,364.7 1250.8,363.7 1260.0,368.3 1264.2,373.7 1271.7,377.0 1275.8,373.0 1283.3,372.5 1288.3,378.7 1296.7,380.8 1305.0,383.0 1309.2,385.8 1313.3,382.0 1317.5,383.3 1320.8,386.7 1325.0,393.3 1330.0,401.7 1334.2,406.3 1339.2,408.3 1343.3,407.5 1349.2,405.0 1355.0,410.8 1360.0,415.0 1365.8,420.8 1373.3,429.2 1378.3,428.0 1384.0,432.0 1390.0,435.8 1395.0,445.0 1403.0,460.8 1407.2,458.7 1415.0,463.3 1419.2,467.0 1424.2,470.3 1427.5,469.7 1433.3,465.3 1440.0,460.8 1444.2,462.5 1448.0,460.8 1452.5,463.7 1456.7,464.2 1462.5,466.7 1468.3,473.3 1471.7,473.7 1478.3,477.5 1485.0,480.8 1489.5,483.3 1495.0,479.2 1501.7,474.7 1505.0,478.0 1509.7,475.3 1514.2,479.2 1518.3,487.5 1521.7,489.2 1530.0,484.2 1538.3,480.0 1542.5,483.0 1546.7,480.8 1550.8,480.8 1555.0,486.7 1559.2,487.0 1566.7,484.7 1571.7,480.3 1577.5,481.7 1583.3,480.8 1588.0,475.8 1592.2,483.3 1595.8,482.0 1600.0,485.0 1604.2,488.0 1608.3,484.2 1612.5,474.2 1616.3,468.3 1620.8,471.7 1625.0,478.7 1633.0,487.0 1637.0,488.0 1641.0,493.0 1649.0,497.8 1653.0,496.5 1657.0,496.2 1661.5,494.2 1665.0,495.0 1669.5,495.5 1674.0,488.0 1678.0,483.5 1683.0,474.0 1688.0,464.0 1692.0,452.0 1695.0,441.0" fill="none" stroke="#fff" stroke-width="2.3" stroke-linejoin="round"/>
<polyline points="195.8,687.5 211.7,679.7 226.7,669.2 238.3,661.7 253.3,653.7 268.3,645.8 283.3,637.5 298.3,625.8 313.3,614.7 328.3,607.5 343.3,600.0 356.7,590.4 370.0,584.2 384.0,580.5 397.5,573.6 411.5,565.0 423.3,559.5 431.7,557.5 446.7,560.0 461.7,563.3 473.3,559.2 490.0,554.2 506.7,546.7 523.3,542.5 540.0,545.8 555.0,547.8 565.0,547.0 573.3,548.7 588.3,550.0 603.3,555.8 618.3,560.3 626.7,562.0 640.0,566.7 656.7,573.3 673.3,578.3 686.7,583.3 696.7,586.7 708.3,593.3 723.3,595.8 740.0,600.0 753.3,606.7 770.0,615.8 790.0,623.5 803.3,627.5 815.0,628.7 823.3,625.3 833.3,627.0 848.3,632.5 865.0,636.7 881.7,641.3 898.3,643.7 915.0,644.7 931.7,645.0 940.0,644.7 950.0,641.7 966.7,641.3 981.7,636.7 998.3,632.5 1015.0,629.7 1028.3,628.0 1043.3,622.5 1056.7,617.5 1070.0,615.0 1090.0,614.2 1106.7,610.0 1123.3,606.7 1131.7,604.7 1146.7,605.8 1156.7,606.7 1170.0,605.3 1183.3,605.0 1196.7,608.3 1210.0,614.2 1225.0,618.3 1236.7,623.3 1250.0,629.2 1263.3,635.8 1273.3,641.7 1286.7,653.3 1300.0,662.0 1314.0,670.0 1329.0,679.5 1344.0,689.0 1357.0,696.5 1363.3,700.0 1376.7,705.0 1390.0,713.5 1408.3,721.0 1423.0,724.7 1435.8,731.6 1454.2,736.6 1472.5,739.7 1490.8,741.5 1507.3,743.9 1523.8,747.6 1536.7,745.8 1555.0,739.7 1573.3,736.6 1591.7,730.5 1610.0,728.3 1622.8,724.7 1637.5,715.5 1655.8,705.4 1674.2,694.4 1687.0,688.0 1694.3,685.8" fill="none" stroke="#40e0d0" stroke-width="6.4" stroke-dasharray="6.2 1.8" stroke-linejoin="round"/>
<polyline points="195.8,633.3 211.7,628.3 226.7,618.3 241.7,609.2 256.7,601.7 268.3,593.3 281.7,585.0 295.0,574.6 306.7,567.0 315.0,561.7 328.3,555.8 343.3,548.3 356.7,539.2 370.0,533.3 381.7,531.7 395.0,524.2 406.7,517.5 416.7,510.8 428.3,507.2 440.0,506.3 453.3,506.7 465.0,506.7 478.3,504.2 490.0,505.0 503.3,500.8 520.0,494.7 540.0,497.5 555.0,495.8 573.3,500.8 590.0,505.8 606.7,510.0 620.0,514.2 633.3,517.5 643.3,518.0 656.7,522.5 673.3,525.8 685.0,530.0 698.3,536.7 710.0,541.7 726.7,545.8 735.0,550.8 750.0,555.0 765.0,560.8 780.0,566.7 790.0,570.4 803.3,574.7 815.0,575.0 828.3,572.0 840.0,575.8 856.7,580.8 873.3,585.0 890.0,585.8 906.7,584.2 923.3,584.7 938.3,585.3 950.0,579.7 966.7,578.0 981.7,573.7 991.7,574.7 1006.7,569.2 1023.3,567.5 1036.7,565.8 1050.0,560.8 1061.7,555.0 1073.3,552.5 1090.0,552.8 1106.7,549.2 1123.3,546.3 1140.0,545.8 1156.7,545.8 1165.0,544.7 1180.0,546.7 1195.0,551.7 1210.0,554.2 1223.3,561.7 1231.7,565.8 1238.3,573.3 1251.7,578.3 1265.0,586.7 1278.3,595.0 1286.7,600.0 1296.7,602.0 1310.0,610.0 1323.3,618.7 1336.7,628.3 1350.0,637.5 1363.3,642.5 1376.7,648.3 1390.0,654.1 1408.3,661.4 1426.7,663.8 1448.7,672.4 1463.3,680.3 1481.7,681.6 1500.0,684.0 1518.3,687.1 1533.0,686.2 1542.2,682.5 1555.0,681.6 1566.0,684.7 1582.5,682.9 1597.2,679.2 1610.0,676.1 1624.7,666.9 1641.2,659.0 1655.8,649.9 1670.5,644.0 1683.3,637.6 1694.3,633.4" fill="none" stroke="#fff" stroke-width="6.4" stroke-dasharray="6.2 1.8" stroke-linejoin="round"/>
<polyline points="194.5,479.0 202.5,470.8 211.7,465.8 219.2,447.5 228.3,450.8 235.8,439.2 245.0,435.8 250.0,429.2 257.5,422.5 265.0,416.5 273.3,422.5 281.7,436.7 287.5,436.7 296.7,420.8 305.0,405.0 311.7,400.8 318.3,391.7 322.5,380.8 331.7,379.2 335.8,381.7 343.3,369.2 350.0,363.3 356.7,360.0 361.7,352.5 366.7,349.2 371.7,345.8 378.3,351.7 385.0,352.5 393.3,350.0 398.3,343.3 403.3,331.7 408.3,316.7 413.3,312.5 417.5,306.7 422.5,308.3 428.3,315.0 435.0,318.3 442.5,322.5 448.3,316.7 455.0,320.0 461.7,313.3 468.3,313.3 473.3,313.3 479.2,310.0 483.3,312.5 490.0,310.0 495.0,313.3 500.0,308.3 506.7,305.0 510.8,295.8 515.8,293.3 520.8,296.7 528.3,298.3 534.2,294.2 540.0,293.3 544.2,298.3 548.3,294.2 553.3,292.5 560.8,295.0 566.7,290.0 573.3,284.2 578.3,285.8 585.8,284.2 591.7,289.2 598.3,294.2 603.3,294.2 614.2,305.0 621.7,295.8 628.3,295.0 634.2,287.5 640.3,286.3" fill="none" stroke="#ff0000" stroke-width="8.6" stroke-linejoin="round"/>
<circle cx="640.3" cy="286.3" r="9.6" fill="#ff0000"/>
<text x="1702.7" y="345" font-size="23.5" fill="#ff8c00" textLength="52" lengthAdjust="spacingAndGlyphs">2023</text>
<text x="1702.7" y="442" font-size="23.5" fill="#fff" textLength="52" lengthAdjust="spacingAndGlyphs">2024</text>
<rect x="171" y="110" width="8" height="901.6" fill="#a9a9a9"/>
<rect x="152" y="109.9" width="20" height="8.2" fill="#a9a9a9"/>
<rect x="152" y="199.3" width="20" height="8.2" fill="#a9a9a9"/>
<rect x="152" y="288.7" width="20" height="8.2" fill="#a9a9a9"/>
<rect x="152" y="378.0" width="20" height="8.2" fill="#a9a9a9"/>
<rect x="152" y="467.4" width="20" height="8.2" fill="#a9a9a9"/>
<rect x="152" y="556.8" width="20" height="8.2" fill="#a9a9a9"/>
<rect x="152" y="646.2" width="20" height="8.2" fill="#a9a9a9"/>
<rect x="152" y="735.6" width="20" height="8.2" fill="#a9a9a9"/>
<rect x="152" y="824.9" width="20" height="8.2" fill="#a9a9a9"/>
<rect x="152" y="914.3" width="20" height="8.2" fill="#a9a9a9"/>
<rect x="152" y="1003.7" width="20" height="8.2" fill="#a9a9a9"/>
<text font-size="28" font-weight="normal" fill="#a9a9a9"><tspan x="92.54" y="124.0" textLength="52.13" lengthAdjust="spacingAndGlyphs">21.4</tspan> <tspan x="92.52" y="213.4" textLength="53.14" lengthAdjust="spacingAndGlyphs">21.2</tspan> <tspan x="92.54" y="302.8" textLength="52.13" lengthAdjust="spacingAndGlyphs">21.0</tspan> <tspan x="92.52" y="392.1" textLength="53.14" lengthAdjust="spacingAndGlyphs">20.8</tspan> <tspan x="92.52" y="481.5" textLength="53.14" lengthAdjust="spacingAndGlyphs">20.6</tspan> <tspan x="92.54" y="570.9" textLength="52.13" lengthAdjust="spacingAndGlyphs">20.4</tspan> <tspan x="92.52" y="660.3" textLength="53.14" lengthAdjust="spacingAndGlyphs">20.2</tspan> <tspan x="92.54" y="749.7" textLength="52.13" lengthAdjust="spacingAndGlyphs">20.0</tspan> <tspan x="90.94" y="839.0" textLength="50.76" lengthAdjust="spacingAndGlyphs">19.8</tspan> <tspan x="90.94" y="928.4" textLength="50.76" lengthAdjust="spacingAndGlyphs">19.6</tspan> <tspan x="90.97" y="1017.8" textLength="49.78" lengthAdjust="spacingAndGlyphs">19.4</tspan></text>
<rect x="191.7" y="1025" width="1486.3" height="8" fill="#a9a9a9"/>
<rect x="191.8" y="1032" width="8.2" height="19.6" fill="#a9a9a9"/>
<text x="195.9" y="1079.3" font-size="29" fill="#a9a9a9" text-anchor="middle" textLength="48.5" lengthAdjust="spacingAndGlyphs">Jan</text>
<rect x="316.6" y="1032" width="8.2" height="19.6" fill="#a9a9a9"/>
<text x="318.3" y="1079.3" font-size="29" fill="#a9a9a9" text-anchor="middle" textLength="50.3" lengthAdjust="spacingAndGlyphs">Feb</text>
<rect x="441.4" y="1032" width="8.2" height="19.6" fill="#a9a9a9"/>
<text x="442.8" y="1079.3" font-size="29" fill="#a9a9a9" text-anchor="middle" textLength="51.0" lengthAdjust="spacingAndGlyphs">Mar</text>
<rect x="566.3" y="1032" width="8.2" height="19.6" fill="#a9a9a9"/>
<text x="570.4" y="1079.3" font-size="29" fill="#a9a9a9" text-anchor="middle" textLength="45.5" lengthAdjust="spacingAndGlyphs">Apr</text>
<rect x="691.1" y="1032" width="8.2" height="19.6" fill="#a9a9a9"/>
<text x="691.7" y="1079.3" font-size="29" fill="#a9a9a9" text-anchor="middle" textLength="59.0" lengthAdjust="spacingAndGlyphs">May</text>
<rect x="816.0" y="1032" width="8.2" height="19.6" fill="#a9a9a9"/>
<text x="819.7" y="1079.3" font-size="29" fill="#a9a9a9" text-anchor="middle" textLength="46.5" lengthAdjust="spacingAndGlyphs">Jun</text>
<rect x="940.8" y="1032" width="8.2" height="19.6" fill="#a9a9a9"/>
<text x="945.3" y="1079.3" font-size="29" fill="#a9a9a9" text-anchor="middle" textLength="35.3" lengthAdjust="spacingAndGlyphs">Jul</text>
<rect x="1065.7" y="1032" width="8.2" height="19.6" fill="#a9a9a9"/>
<text x="1070.8" y="1079.3" font-size="29" fill="#a9a9a9" text-anchor="middle" textLength="54.8" lengthAdjust="spacingAndGlyphs">Aug</text>
<rect x="1190.5" y="1032" width="8.2" height="19.6" fill="#a9a9a9"/>
<text x="1194.2" y="1079.3" font-size="29" fill="#a9a9a9" text-anchor="middle" textLength="50.1" lengthAdjust="spacingAndGlyphs">Sep</text>
<rect x="1315.4" y="1032" width="8.2" height="19.6" fill="#a9a9a9"/>
<text x="1316.8" y="1079.3" font-size="29" fill="#a9a9a9" text-anchor="middle" textLength="48.9" lengthAdjust="spacingAndGlyphs">Oct</text>
<rect x="1440.2" y="1032" width="8.2" height="19.6" fill="#a9a9a9"/>
<text x="1441.8" y="1079.3" font-size="29" fill="#a9a9a9" text-anchor="middle" textLength="52.7" lengthAdjust="spacingAndGlyphs">Nov</text>
<rect x="1565.1" y="1032" width="8.2" height="19.6" fill="#a9a9a9"/>
<text x="1565.7" y="1079.3" font-size="29" fill="#a9a9a9" text-anchor="middle" textLength="55.3" lengthAdjust="spacingAndGlyphs">Dec</text>
<text font-size="34.5" font-weight="bold" fill="#a9a9a9" transform="translate(69.7,0) rotate(-90)"><tspan x="-799.45" y="0" textLength="58.07" lengthAdjust="spacingAndGlyphs">Sea</tspan> <tspan x="-730.18" y="0" textLength="123.4" lengthAdjust="spacingAndGlyphs">Surface</tspan> <tspan x="-599.6" y="0" textLength="202.51" lengthAdjust="spacingAndGlyphs">Temperature</tspan> <tspan x="-386.73" y="0" textLength="65.64" lengthAdjust="spacingAndGlyphs">(°C)</tspan></text>
<text font-size="23" font-weight="bold" fill="#a9a9a9"><tspan x="729.67" y="806.6" textLength="54.08" lengthAdjust="spacingAndGlyphs">Gray</tspan> <tspan x="790.79" y="806.6" textLength="88.68" lengthAdjust="spacingAndGlyphs">shading</tspan> <tspan x="886.42" y="806.6" textLength="91.57" lengthAdjust="spacingAndGlyphs">includes</tspan> <tspan x="984.8" y="806.6" textLength="25.58" lengthAdjust="spacingAndGlyphs">all</tspan> <tspan x="1017.9" y="806.6" textLength="59.21" lengthAdjust="spacingAndGlyphs">years</tspan> <tspan x="1084.5" y="806.6" textLength="49.08" lengthAdjust="spacingAndGlyphs">from</tspan> <tspan x="1142.2" y="806.6" textLength="109.5" lengthAdjust="spacingAndGlyphs">1979-2025</tspan></text>
<text font-size="21" font-weight="normal" fill="#a9a9a9"><tspan x="193.94" y="985.7" textLength="59.88" lengthAdjust="spacingAndGlyphs" font-weight="bold">DATA:</tspan> <tspan x="258.0" y="985.7" textLength="116.45" lengthAdjust="spacingAndGlyphs">Copernicus</tspan> <tspan x="380.1" y="985.7" textLength="78.41" lengthAdjust="spacingAndGlyphs">Climate</tspan> <tspan x="464.27" y="985.7" textLength="83.27" lengthAdjust="spacingAndGlyphs">Change</tspan> <tspan x="554.07" y="985.7" textLength="160.06" lengthAdjust="spacingAndGlyphs">Service/ECMWF</tspan> <tspan x="721.38" y="985.7" textLength="130.89" lengthAdjust="spacingAndGlyphs">(*Preliminary*</tspan> <tspan x="859.09" y="985.7" textLength="56.09" lengthAdjust="spacingAndGlyphs">ERA5)</tspan></text>
<text font-size="21" font-weight="normal" fill="#a9a9a9"><tspan x="193.99" y="1008.3" textLength="88.09" lengthAdjust="spacingAndGlyphs" font-weight="bold">SOURCE:</tspan> <tspan x="287.59" y="1008.3" textLength="365.73" lengthAdjust="spacingAndGlyphs">https://pulse.climate.copernicus.eu/</tspan></text>
<text font-size="21" font-weight="normal" fill="#a9a9a9"><tspan x="1373.76" y="985.6" textLength="84.27" lengthAdjust="spacingAndGlyphs" font-weight="bold">REGION:</tspan> <tspan x="1464.22" y="985.6" textLength="22.83" lengthAdjust="spacingAndGlyphs">60</tspan> <tspan x="1486.9" y="994.3" textLength="15.13" lengthAdjust="spacingAndGlyphs" font-size="36">°</tspan> <tspan x="1504.43" y="985.6" textLength="42.68" lengthAdjust="spacingAndGlyphs">S–60</tspan> <tspan x="1546.3" y="994.3" textLength="15.85" lengthAdjust="spacingAndGlyphs" font-size="36">°</tspan> <tspan x="1565.07" y="985.6" textLength="16.18" lengthAdjust="spacingAndGlyphs">N</tspan> <tspan x="1586.35" y="985.6" textLength="87.58" lengthAdjust="spacingAndGlyphs">average</tspan></text>
<text font-size="21" font-weight="normal" fill="#a9a9a9"><tspan x="1328.65" y="1007.8" textLength="99.11" lengthAdjust="spacingAndGlyphs" font-weight="bold">GRAPHIC:</tspan> <tspan x="1431.93" y="1007.8" textLength="81.42" lengthAdjust="spacingAndGlyphs">Zachary</tspan> <tspan x="1520.57" y="1007.8" textLength="52.03" lengthAdjust="spacingAndGlyphs">Labe</tspan> <tspan x="1579.0" y="1007.8" textLength="94.76" lengthAdjust="spacingAndGlyphs">(@ZLabe)</tspan></text>
<rect x="430" y="1131.3" width="94.3" height="2.3" fill="#ff8c00"/>
<rect x="430" y="1164.6" width="94.3" height="2.3" fill="#fff"/>
<text x="540.7" y="1139.5" font-size="23.5" fill="#ff8c00" textLength="107.5" lengthAdjust="spacingAndGlyphs">Year 2023</text>
<text x="540.7" y="1173" font-size="23.5" fill="#fff" textLength="107.5" lengthAdjust="spacingAndGlyphs">Year 2024</text>
<line x1="692.2" y1="1132" x2="783.8" y2="1132" stroke="#40e0d0" stroke-width="6" stroke-dasharray="6 1.8"/>
<line x1="692.2" y1="1165" x2="783.8" y2="1165" stroke="#fff" stroke-width="6" stroke-dasharray="6 1.8"/>
<text x="800.6" y="1139.6" font-size="23.5" fill="#40e0d0" textLength="208.6" lengthAdjust="spacingAndGlyphs">1981-2010 Average</text>
<text x="800.6" y="1172.8" font-size="23.5" fill="#fff" textLength="208.6" lengthAdjust="spacingAndGlyphs">1991-2020 Average</text>
<rect x="1052.8" y="1127" width="102.2" height="10" fill="#ff0000"/>
<text x="1167.8" y="1139.6" font-size="23" font-weight="bold" fill="#ff0000" textLength="301.5" lengthAdjust="spacingAndGlyphs">Current Year (18 April 2026)</text>
<rect x="1320.3" y="1146.7" width="140.6" height="1.3" fill="#ff0000"/>
</svg>
</body></html>
